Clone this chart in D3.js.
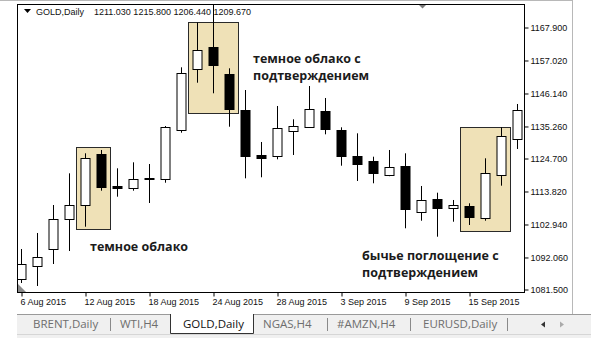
<!DOCTYPE html>
<html lang="ru">
  <head>
    <meta charset="utf-8">
    <title>GOLD,Daily</title>
    <script type="text/javascript" src="https://cdn.jsdelivr.net/npm/d3@7/dist/d3.min.js"></script>
    <style>
      body { margin: 0; background: #fff; }
      svg { display: block; }
    </style>
  </head>
  <body>
    <script type="text/javascript">
      var w = 591;
      var h = 338;

      // trading days shown on the chart
      var days = ["2015-08-06","2015-08-07","2015-08-10","2015-08-11","2015-08-12","2015-08-13","2015-08-14",
                  "2015-08-17","2015-08-18","2015-08-19","2015-08-20","2015-08-21","2015-08-24","2015-08-25",
                  "2015-08-26","2015-08-27","2015-08-28","2015-08-31","2015-09-01","2015-09-02","2015-09-03",
                  "2015-09-04","2015-09-07","2015-09-08","2015-09-09","2015-09-10","2015-09-11","2015-09-14",
                  "2015-09-15","2015-09-16","2015-09-17","2015-09-18"];
      var opens  = [1084.80,1089.18,1094.59,1104.48,1108.97,1126.02,1115.47,1114.58,1118.00,1117.68,1133.93,1153.95,
                    1161.40,1152.30,1140.53,1125.69,1125.13,1133.70,1134.82,1140.20,1133.93,1125.36,1123.71,1118.86,
                    1122.06,1106.79,1111.18,1108.11,1108.87,1105.01,1119.09,1130.87];
      var highs  = [1094.69,1099.97,1109.20,1119.65,1126.25,1127.34,1121.30,1123.28,1122.72,1135.25,1154.61,1169.38,
                    1177.00,1154.28,1147.12,1129.98,1141.85,1137.46,1148.44,1144.49,1134.82,1132.84,1125.13,1127.34,
                    1126.25,1115.47,1113.26,1110.85,1109.76,1124.60,1134.82,1142.51];
      var lows   = [1083.48,1082.49,1089.74,1094.03,1102.04,1113.92,1111.94,1113.92,1109.86,1116.55,1133.04,1149.53,
                    1146.04,1135.02,1118.00,1118.34,1124.27,1125.69,1134.60,1132.51,1122.16,1117.12,1116.36,1118.70,
                    1101.52,1104.02,1098.75,1103.69,1102.61,1104.02,1115.57,1127.67];
      var closes = [1089.74,1092.15,1104.58,1109.10,1124.60,1115.24,1114.81,1117.68,1118.20,1134.82,1152.63,1160.32,
                    1155.37,1140.86,1125.46,1124.80,1134.49,1135.25,1140.76,1134.16,1125.46,1122.62,1119.85,1121.63,
                    1107.78,1110.75,1108.11,1109.20,1105.34,1119.85,1131.95,1140.53];

      var priceTicks = [1081.5, 1092.06, 1102.94, 1113.82, 1124.70, 1135.26, 1146.14, 1157.02, 1167.90];

      // highlighted patterns: first bar, last bar, price top, price bottom
      var boxFrom = [4, 11, 28];
      var boxTo   = [5, 13, 30];
      var boxHigh = [1128.2, 1169.5, 1134.8];
      var boxLow  = [1101.2, 1139.6, 1100.4];

      var noteLines = [["темное облако"],
                       ["темное облако с", "подтверждением"],
                       ["бычье поглощение с", "подтверждением"]];
      var noteBar   = [4, 14, 21];
      var notePrice = [1094.0, 1156.0, 1091.0];

      var tabNames = ["BRENT,Daily", "WTI,H4", "GOLD,Daily", "NGAS,H4", "#AMZN,H4", "EURUSD,Daily"];
      var activeTab = "GOLD,Daily";

      var header = "GOLD,Daily";
      var headerQuote = "1211.030 1215.800 1206.440 1209.670";

      var parseDay = d3.timeParse("%Y-%m-%d");
      var formatDay = d3.timeFormat("%-d %b %Y");

      var bars = days.map(function (d, i) {
        return { day: d, o: opens[i], h: highs[i], l: lows[i], c: closes[i] };
      });

      var plotL = 18, plotR = 524, plotT = 4, plotB = 292;

      var xScale = d3.scalePoint()
                     .domain(days)
                     .range([21.5, 517.5]);

      var yScale = d3.scaleLinear()
                     .domain([1081.5, 1167.9])
                     .range([289, 27]);

      var svg = d3.select("body")
                  .append("svg")
                  .attr("width", w)
                  .attr("height", h)
                  .style("font-family", "'Liberation Sans', Arial, sans-serif");

      svg.append("rect").attr("width", w).attr("height", h).attr("fill", "#fff");

      // window frame
      svg.append("line").attr("x1", 0).attr("x2", 572).attr("y1", 0.5).attr("y2", 0.5)
         .attr("stroke", "#b8b8b8");
      svg.append("line").attr("x1", 572.5).attr("x2", 572.5).attr("y1", 0).attr("y2", 314)
         .attr("stroke", "#b8b8b8");

      svg.append("defs").append("clipPath").attr("id", "plot")
         .append("rect").attr("x", plotL).attr("y", plotT)
         .attr("width", plotR - plotL).attr("height", plotB - plotT);

      var plot = svg.append("g").attr("clip-path", "url(#plot)");

      // pattern boxes
      plot.selectAll("rect.box")
          .data(boxFrom)
          .enter()
          .append("rect")
          .attr("class", "box")
          .attr("x", function (d) { return xScale(days[d]) - 9; })
          .attr("y", function (d, i) { return Math.round(yScale(boxHigh[i])) + 0.5; })
          .attr("width", function (d, i) { return xScale(days[boxTo[i]]) - xScale(days[d]) + 18; })
          .attr("height", function (d, i) { return Math.round(yScale(boxLow[i]) - yScale(boxHigh[i])); })
          .attr("fill", "#efe1b7")
          .attr("stroke", "#2a2a2a")
          .attr("stroke-width", 1);

      // wicks
      plot.selectAll("line.wick")
          .data(bars)
          .enter()
          .append("line")
          .attr("class", "wick")
          .attr("x1", function (d) { return xScale(d.day); })
          .attr("x2", function (d) { return xScale(d.day); })
          .attr("y1", function (d) { return yScale(d.h); })
          .attr("y2", function (d) { return yScale(d.l); })
          .attr("stroke", "#000")
          .attr("stroke-width", 1);

      // bodies
      plot.selectAll("rect.body")
          .data(bars)
          .enter()
          .append("rect")
          .attr("class", "body")
          .attr("x", function (d) { return xScale(d.day) - 4.5; })
          .attr("y", function (d) { return Math.round(yScale(Math.max(d.o, d.c))) + 0.5; })
          .attr("width", 9)
          .attr("height", function (d) {
            return Math.max(1, Math.round(Math.abs(yScale(d.o) - yScale(d.c))));
          })
          .attr("fill", function (d) { return d.c >= d.o ? "#fff" : "#000"; })
          .attr("stroke", "#000")
          .attr("stroke-width", 1);

      // notes
      noteLines.forEach(function (lines, i) {
        var t = plot.append("text")
                    .attr("x", xScale(days[noteBar[i]]) + 4.5 + (i == 1 ? 3 : 0))
                    .attr("y", yScale(notePrice[i]))
                    .attr("font-family", "'Open Sans', sans-serif")
                    .attr("font-weight", "bold")
                    .attr("font-size", "12.5px")
                    .attr("fill", "#1b1b1b");
        lines.forEach(function (s, j) {
          t.append("tspan")
           .attr("x", t.attr("x"))
           .attr("dy", j == 0 ? 0 : 17)
           .text(s);
        });
      });

      // shift markers
      svg.append("path").attr("d", "M418,4L427,4L422.5,8.5Z").attr("fill", "#7a7a7a");
      svg.append("path").attr("d", "M18,284L18,292L26,292Z").attr("fill", "#8a8a8a");

      // frame of plot
      svg.append("rect")
         .attr("x", plotL - 0.5).attr("y", plotT + 0.5)
         .attr("width", plotR - plotL + 1).attr("height", plotB - plotT)
         .attr("fill", "none")
         .attr("stroke", "#000");

      // price axis
      var yAxis = d3.axisRight(yScale)
                    .tickValues(priceTicks)
                    .tickSize(4)
                    .tickPadding(2)
                    .tickFormat(d3.format(".3f"));

      var gy = svg.append("g")
                  .attr("transform", "translate(" + (plotR + 0.5) + ",0.5)")
                  .call(yAxis);
      gy.select(".domain").remove();
      gy.selectAll("text")
        .attr("font-family", "'Liberation Sans', Arial, sans-serif")
        .attr("font-size", "9px")
        .attr("fill", "#111");

      // time axis
      var xAxis = d3.axisBottom(xScale)
                    .tickValues(days.filter(function (d, i) { return i % 4 == 0; }))
                    .tickSize(4)
                    .tickPadding(2)
                    .tickFormat(function (d) { return formatDay(parseDay(d)); });

      var gx = svg.append("g")
                  .attr("transform", "translate(0," + (plotB + 0.5) + ")")
                  .call(xAxis);
      gx.select(".domain").remove();
      gx.selectAll("text")
        .attr("text-anchor", "start")
        .attr("dx", -1.5)
        .attr("font-family", "'Liberation Sans', Arial, sans-serif")
        .attr("font-size", "9px")
        .attr("fill", "#111");

      // header
      svg.append("path").attr("d", "M24,9L31,9L27.5,13Z").attr("fill", "#000");
      svg.append("text").attr("x", 36).attr("y", 15)
         .attr("font-size", "9px").attr("fill", "#111").text(header);
      svg.append("text").attr("x", 94).attr("y", 15)
         .attr("font-size", "9px").attr("fill", "#111").text(headerQuote);

      // tab bar
      var tabs = svg.append("g");
      tabs.append("rect").attr("x", 17).attr("y", 314).attr("width", w - 17).attr("height", 24)
          .attr("fill", "#f0f0f0");
      tabs.append("line").attr("x1", 17).attr("x2", w).attr("y1", 314.5).attr("y2", 314.5)
          .attr("stroke", "#9a9a9a");
      tabs.append("line").attr("x1", 17).attr("x2", w).attr("y1", 334.5).attr("y2", 334.5)
          .attr("stroke", "#d6d6d6");

      var tabX = [33, 120, 183, 263, 337, 423];
      var sepX = [110, 327, 410, 507];

      tabs.append("path")
          .attr("d", "M170.5,314V333.5H253.5V314")
          .attr("fill", "#fff")
          .attr("stroke", "#333");

      tabs.selectAll("text.tab")
          .data(tabNames)
          .enter()
          .append("text")
          .attr("class", "tab")
          .attr("x", function (d, i) { return tabX[i]; })
          .attr("y", 328)
          .attr("font-family", "'Open Sans', sans-serif")
          .attr("font-size", "11.5px")
          .attr("fill", function (d) { return d == activeTab ? "#111" : "#6e6e6e"; })
          .text(function (d) { return d; });

      tabs.selectAll("line.sep")
          .data(sepX)
          .enter()
          .append("line")
          .attr("class", "sep")
          .attr("x1", function (d) { return d + 0.5; })
          .attr("x2", function (d) { return d + 0.5; })
          .attr("y1", 318)
          .attr("y2", 331)
          .attr("stroke", "#8a8a8a");

      tabs.append("path").attr("d", "M541,324.5L545,321.5L545,327.5Z").attr("fill", "#333");
      tabs.append("path").attr("d", "M564,324.5L560,321.5L560,327.5Z").attr("fill", "#aaa");
    </script>
  </body>
</html>
